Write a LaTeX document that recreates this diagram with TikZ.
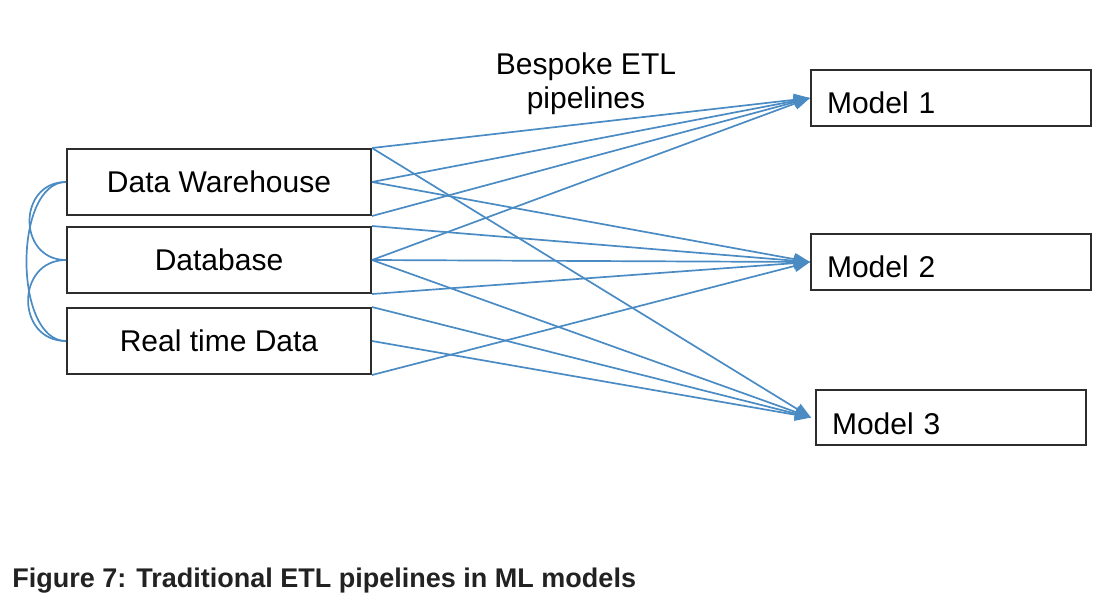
\documentclass[tikz,border=0pt]{standalone}
\usepackage{fontspec}
\setmainfont{Liberation Sans}
\usetikzlibrary{arrows.meta}

\definecolor{pipeblue}{RGB}{74,139,196}
\definecolor{boxgray}{RGB}{45,45,45}
\definecolor{captiongray}{RGB}{34,34,34}

\tikzset{
  source/.style={draw=boxgray, line width=1pt, minimum width=152pt, minimum height=33pt,
    inner sep=0pt, font=\fontsize{15}{17}\selectfont},
  model/.style={draw=boxgray, line width=1pt, minimum height=28pt, inner xsep=8pt,
    text height=15.5pt, text depth=0pt, align=left, font=\fontsize{15}{17}\selectfont},
  pipe/.style={draw=pipeblue, line width=0.85pt},
  feed/.style={pipe, -{Triangle[length=8pt,width=6pt]}}
}

\begin{document}
\begin{tikzpicture}[x=0.5pt,y=-0.5pt]

\useasboundingbox (0,0) rectangle (1108,612);

% Sources
\node[source] (dw) at (219,182) {Data Warehouse};
\node[source] (db) at (219,260) {Database};
\node[source] (rt) at (219,341) {Real time Data};

% Models
\node[model, text width=124pt] (m1) at (951,98) {Model 1};
\node[model, text width=124pt] (m2) at (951,262) {Model 2};
\node[model, text width=119pt, minimum height=27.5pt, text height=16.5pt] (m3) at (951,417.5) {Model 3};
\coordinate (m3in) at ([xshift=-2pt]m3.west);

\node[align=center, font=\fontsize{15}{17}\selectfont] (bespoke) at (586,84) {Bespoke ETL\\pipelines};

% Left links
\draw[pipe] (dw.west) to[out=180,in=180,looseness=1.6] (db.west);
\draw[pipe] (db.west) to[out=180,in=180,looseness=1.6] (rt.west);
\draw[pipe] (dw.west) to[out=180,in=180,looseness=0.85] (rt.west);

% Pipelines
\foreach \s/\t in {
dw.north east/m1.west, dw.east/m1.west, dw.south east/m1.west, db.east/m1.west,
dw.east/m2.west, db.north east/m2.west, db.east/m2.west, db.south east/m2.west, rt.south east/m2.west,
dw.north east/m3in, db.east/m3in, rt.north east/m3in, rt.east/m3in}
{
\draw[feed] (\s) -- (\t);
}

\node[anchor=base west, font=\fontsize{13.5}{16}\selectfont\bfseries, text=captiongray, inner sep=0pt]
  (caption) at (12,587) {Figure 7: Traditional ETL pipelines in ML models};

\end{tikzpicture}
\end{document}
